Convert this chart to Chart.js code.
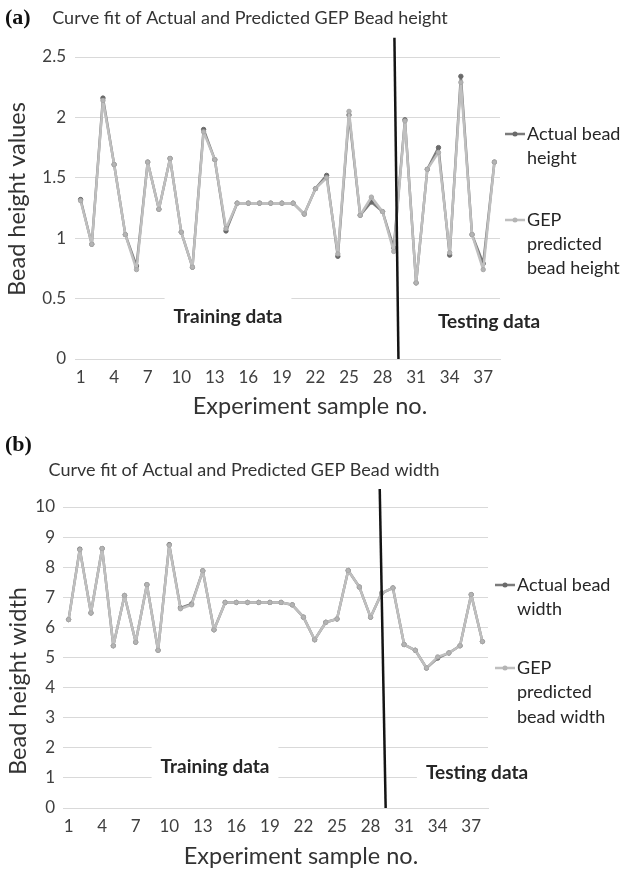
<!DOCTYPE html>
<html>
<head>
<meta charset="utf-8">
<script src="https://cdn.jsdelivr.net/npm/chart.js@4.4.1/dist/chart.umd.min.js"></script>
<style>
  html, body { margin: 0; padding: 0; background: #ffffff; }
  #wrap { position: relative; width: 625px; height: 870px; }
  canvas { position: absolute; left: 0; }
</style>
</head>
<body>
<div id="wrap">
  <canvas id="heightChart" width="625" height="430" style="top:0px"></canvas>
  <canvas id="widthChart" width="625" height="440" style="top:430px"></canvas>
</div>
<script>
// Experiment sample numbers (x categories)
const sampleNo = [1, 2, 3, 4, 5, 6, 7, 8, 9, 10, 11, 12, 13, 14, 15, 16, 17, 18, 19,
  20, 21, 22, 23, 24, 25, 26, 27, 28, 29, 30, 31, 32, 33, 34, 35, 36, 37, 38];

// (a) bead height
const heightActual = [1.32, 0.95, 2.16, 1.61, 1.03, 0.77, 1.63, 1.24, 1.66, 1.05,
  0.76, 1.90, 1.65, 1.06, 1.29, 1.29, 1.29, 1.29, 1.29, 1.29,
  1.20, 1.41, 1.52, 0.85, 2.02, 1.19, 1.30, 1.22, 0.92, 1.98,
  0.63, 1.57, 1.75, 0.86, 2.34, 1.03, 0.79, 1.63];
const heightPredicted = [1.31, 0.95, 2.14, 1.61, 1.03, 0.74, 1.63, 1.24, 1.66, 1.05,
  0.76, 1.88, 1.65, 1.08, 1.29, 1.29, 1.29, 1.29, 1.29, 1.29,
  1.20, 1.41, 1.50, 0.87, 2.05, 1.19, 1.34, 1.22, 0.89, 1.97,
  0.63, 1.57, 1.71, 0.88, 2.29, 1.03, 0.74, 1.63];

// (b) bead width
const widthActual = [6.26, 8.60, 6.48, 8.62, 5.39, 7.06, 5.51, 7.42, 5.24, 8.75,
  6.65, 6.78, 7.88, 5.92, 6.83, 6.83, 6.83, 6.83, 6.83, 6.83,
  6.75, 6.34, 5.59, 6.17, 6.28, 7.89, 7.34, 6.34, 7.14, 7.31,
  5.43, 5.24, 4.65, 4.98, 5.15, 5.39, 7.09, 5.53];
const widthPredicted = [6.26, 8.58, 6.48, 8.62, 5.39, 7.06, 5.51, 7.42, 5.24, 8.73,
  6.62, 6.75, 7.88, 5.92, 6.83, 6.83, 6.83, 6.83, 6.83, 6.83,
  6.75, 6.34, 5.59, 6.17, 6.28, 7.89, 7.34, 6.34, 7.14, 7.31,
  5.43, 5.24, 4.65, 5.02, 5.15, 5.39, 7.09, 5.53];

// Train / test split marker (category index, value) end points
const heightSplit = [{ x: 28.06, y: 2.66 }, { x: 28.42, y: 0 }];
const widthSplit = [{ x: 27.82, y: 10.6 }, { x: 28.35, y: 0 }];

const FONT = 'Lato';
const ACTUAL_COLOR = '#7b7b7b';
const PRED_COLOR = '#bfbfbf';

// Draws region labels, split line, axis titles, panel letter and legend
const decorations = {
  id: 'decorations',
  beforeDatasetsDraw(chart, args, o) {
    const ctx = chart.ctx;
    ctx.save();
    ctx.font = 'bold 19px ' + FONT;
    o.regions.forEach(r => {
      const w = ctx.measureText(r.text).width;
      ctx.fillStyle = '#ffffff';
      ctx.fillRect(r.x - w / 2 - 9, r.y - 21, w + 18, 42);
    });
    ctx.restore();
  },
  afterDatasetsDraw(chart, args, o) {
    const { ctx, scales: { x, y } } = chart;
    ctx.save();
    ctx.strokeStyle = '#141414';
    ctx.lineWidth = 2.5;
    ctx.beginPath();
    ctx.moveTo(x.getPixelForValue(o.split[0].x), y.getPixelForValue(o.split[0].y));
    ctx.lineTo(x.getPixelForValue(o.split[1].x), y.getPixelForValue(o.split[1].y));
    ctx.stroke();
    ctx.restore();
  },
  afterDraw(chart, args, o) {
    const ctx = chart.ctx;
    ctx.save();
    ctx.textAlign = 'center';
    ctx.textBaseline = 'middle';

    // region labels
    ctx.font = 'bold 19px ' + FONT;
    ctx.fillStyle = '#262626';
    o.regions.forEach(r => ctx.fillText(r.text, r.x, r.y));

    // axis titles
    ctx.font = '23.5px ' + FONT;
    ctx.fillStyle = '#333333';
    ctx.fillText(o.xTitle.text, o.xTitle.x, o.xTitle.y);
    ctx.save();
    ctx.translate(o.yTitle.x, o.yTitle.y);
    ctx.rotate(-Math.PI / 2);
    ctx.fillText(o.yTitle.text, 0, 0);
    ctx.restore();

    // panel letter
    ctx.font = 'bold 22px "Liberation Serif"';
    ctx.fillStyle = '#111111';
    ctx.textAlign = 'left';
    ctx.fillText(o.panel.text, o.panel.x, o.panel.y);

    // legend
    ctx.font = '18px ' + FONT;
    o.legend.forEach(item => {
      const ds = chart.data.datasets[item.dataset];
      ctx.strokeStyle = ds.borderColor;
      ctx.lineWidth = 2.5;
      ctx.beginPath();
      ctx.moveTo(o.legendX, item.y);
      ctx.lineTo(o.legendX + 20, item.y);
      ctx.stroke();
      ctx.fillStyle = ds.pointBackgroundColor;
      ctx.beginPath();
      ctx.arc(o.legendX + 10, item.y, 2.5, 0, Math.PI * 2);
      ctx.fill();
      ctx.fillStyle = '#262626';
      item.lines.forEach((line, k) => {
        ctx.fillText(line, o.legendX + 22, item.y + k * o.legendLineGap);
      });
    });
    ctx.restore();
  }
};

function makeChart(id, cfg) {
  return new Chart(document.getElementById(id), {
    type: 'line',
    data: {
      labels: sampleNo,
      datasets: [
        {
          label: cfg.actualLabel,
          data: cfg.actual,
          borderColor: ACTUAL_COLOR,
          backgroundColor: ACTUAL_COLOR,
          pointBackgroundColor: '#6a6a6a',
          pointBorderColor: '#6a6a6a',
          borderWidth: 2.5,
          borderJoinStyle: 'round',
          borderCapStyle: 'round',
          pointRadius: 2.2,
          pointBorderWidth: 1,
          tension: 0,
          order: 2
        },
        {
          label: cfg.predLabel,
          data: cfg.predicted,
          borderColor: PRED_COLOR,
          backgroundColor: PRED_COLOR,
          pointBackgroundColor: '#b4b4b4',
          pointBorderColor: '#a9a9a9',
          borderWidth: 2.5,
          borderJoinStyle: 'round',
          borderCapStyle: 'round',
          pointRadius: 2.2,
          pointBorderWidth: 1,
          tension: 0,
          order: 1
        }
      ]
    },
    options: {
      responsive: false,
      animation: false,
      devicePixelRatio: 1,
      layout: { padding: { left: 0, right: cfg.padRight, top: 0, bottom: 0 } },
      plugins: {
        legend: { display: false },
        tooltip: { enabled: false },
        title: {
          display: true,
          text: cfg.title,
          color: '#333333',
          font: { family: FONT, size: 18, weight: 'normal', lineHeight: 1.2 },
          padding: cfg.titlePad
        },
        decorations: cfg.deco
      },
      scales: {
        x: {
          offset: true,
          grid: { display: false, drawTicks: false },
          border: { display: true, color: '#d9d9d9', width: 1 },
          ticks: {
            autoSkip: false,
            maxRotation: 0,
            color: '#404040',
            font: { family: FONT, size: 17 },
            padding: 8,
            callback: (v, i) => (i % 3 === 0 ? String(sampleNo[i]) : '')
          },
          afterFit: s => { s.height = cfg.xHeight; }
        },
        y: {
          min: cfg.yMin,
          max: cfg.yMax,
          grid: { color: '#d9d9d9', lineWidth: 1, drawTicks: false },
          border: { display: false },
          ticks: {
            stepSize: cfg.yStep,
            color: '#404040',
            font: { family: FONT, size: 17 },
            padding: cfg.yTickPad,
            callback: v => String(Math.round(v * 10) / 10)
          },
          afterFit: s => { s.width = cfg.yWidth; }
        }
      }
    },
    plugins: [decorations]
  });
}

makeChart('heightChart', {
  title: 'Curve fit of Actual and Predicted GEP Bead height',
  actualLabel: 'Actual bead height',
  predLabel: 'GEP predicted bead height',
  actual: heightActual,
  predicted: heightPredicted,
  yMin: 0, yMax: 2.5, yStep: 0.5,
  yWidth: 75, yTickPad: 9,
  xHeight: 71,
  padRight: 125,
  titlePad: { top: 7, bottom: 28.4 },
  deco: {
    split: heightSplit,
    regions: [
      { text: 'Training data', x: 228, y: 317 },
      { text: 'Testing data', x: 489, y: 322 }
    ],
    xTitle: { text: 'Experiment sample no.', x: 310, y: 406 },
    yTitle: { text: 'Bead height values', x: 17, y: 199 },
    panel: { text: '(a)', x: 5, y: 18 },
    legendX: 505,
    legendLineGap: 24,
    legend: [
      { dataset: 0, y: 134, lines: ['Actual bead', 'height'] },
      { dataset: 1, y: 220, lines: ['GEP', 'predicted', 'bead height'] }
    ]
  }
});

makeChart('widthChart', {
  title: 'Curve fit of Actual and Predicted GEP Bead width',
  actualLabel: 'Actual bead width',
  predLabel: 'GEP predicted bead width',
  actual: widthActual,
  predicted: widthPredicted,
  yMin: 0, yMax: 10, yStep: 1,
  yWidth: 63, yTickPad: 8,
  xHeight: 62,
  padRight: 137,
  titlePad: { top: 29, bottom: 26.4 },
  deco: {
    split: widthSplit,
    regions: [
      { text: 'Training data', x: 215, y: 337 },
      { text: 'Testing data', x: 477, y: 343 }
    ],
    xTitle: { text: 'Experiment sample no.', x: 301, y: 426 },
    yTitle: { text: 'Bead height width', x: 18, y: 251 },
    panel: { text: '(b)', x: 5, y: 15 },
    legendX: 495,
    legendLineGap: 24.5,
    legend: [
      { dataset: 0, y: 155, lines: ['Actual bead', 'width'] },
      { dataset: 1, y: 238, lines: ['GEP', 'predicted', 'bead width'] }
    ]
  }
});
</script>
</body>
</html>
